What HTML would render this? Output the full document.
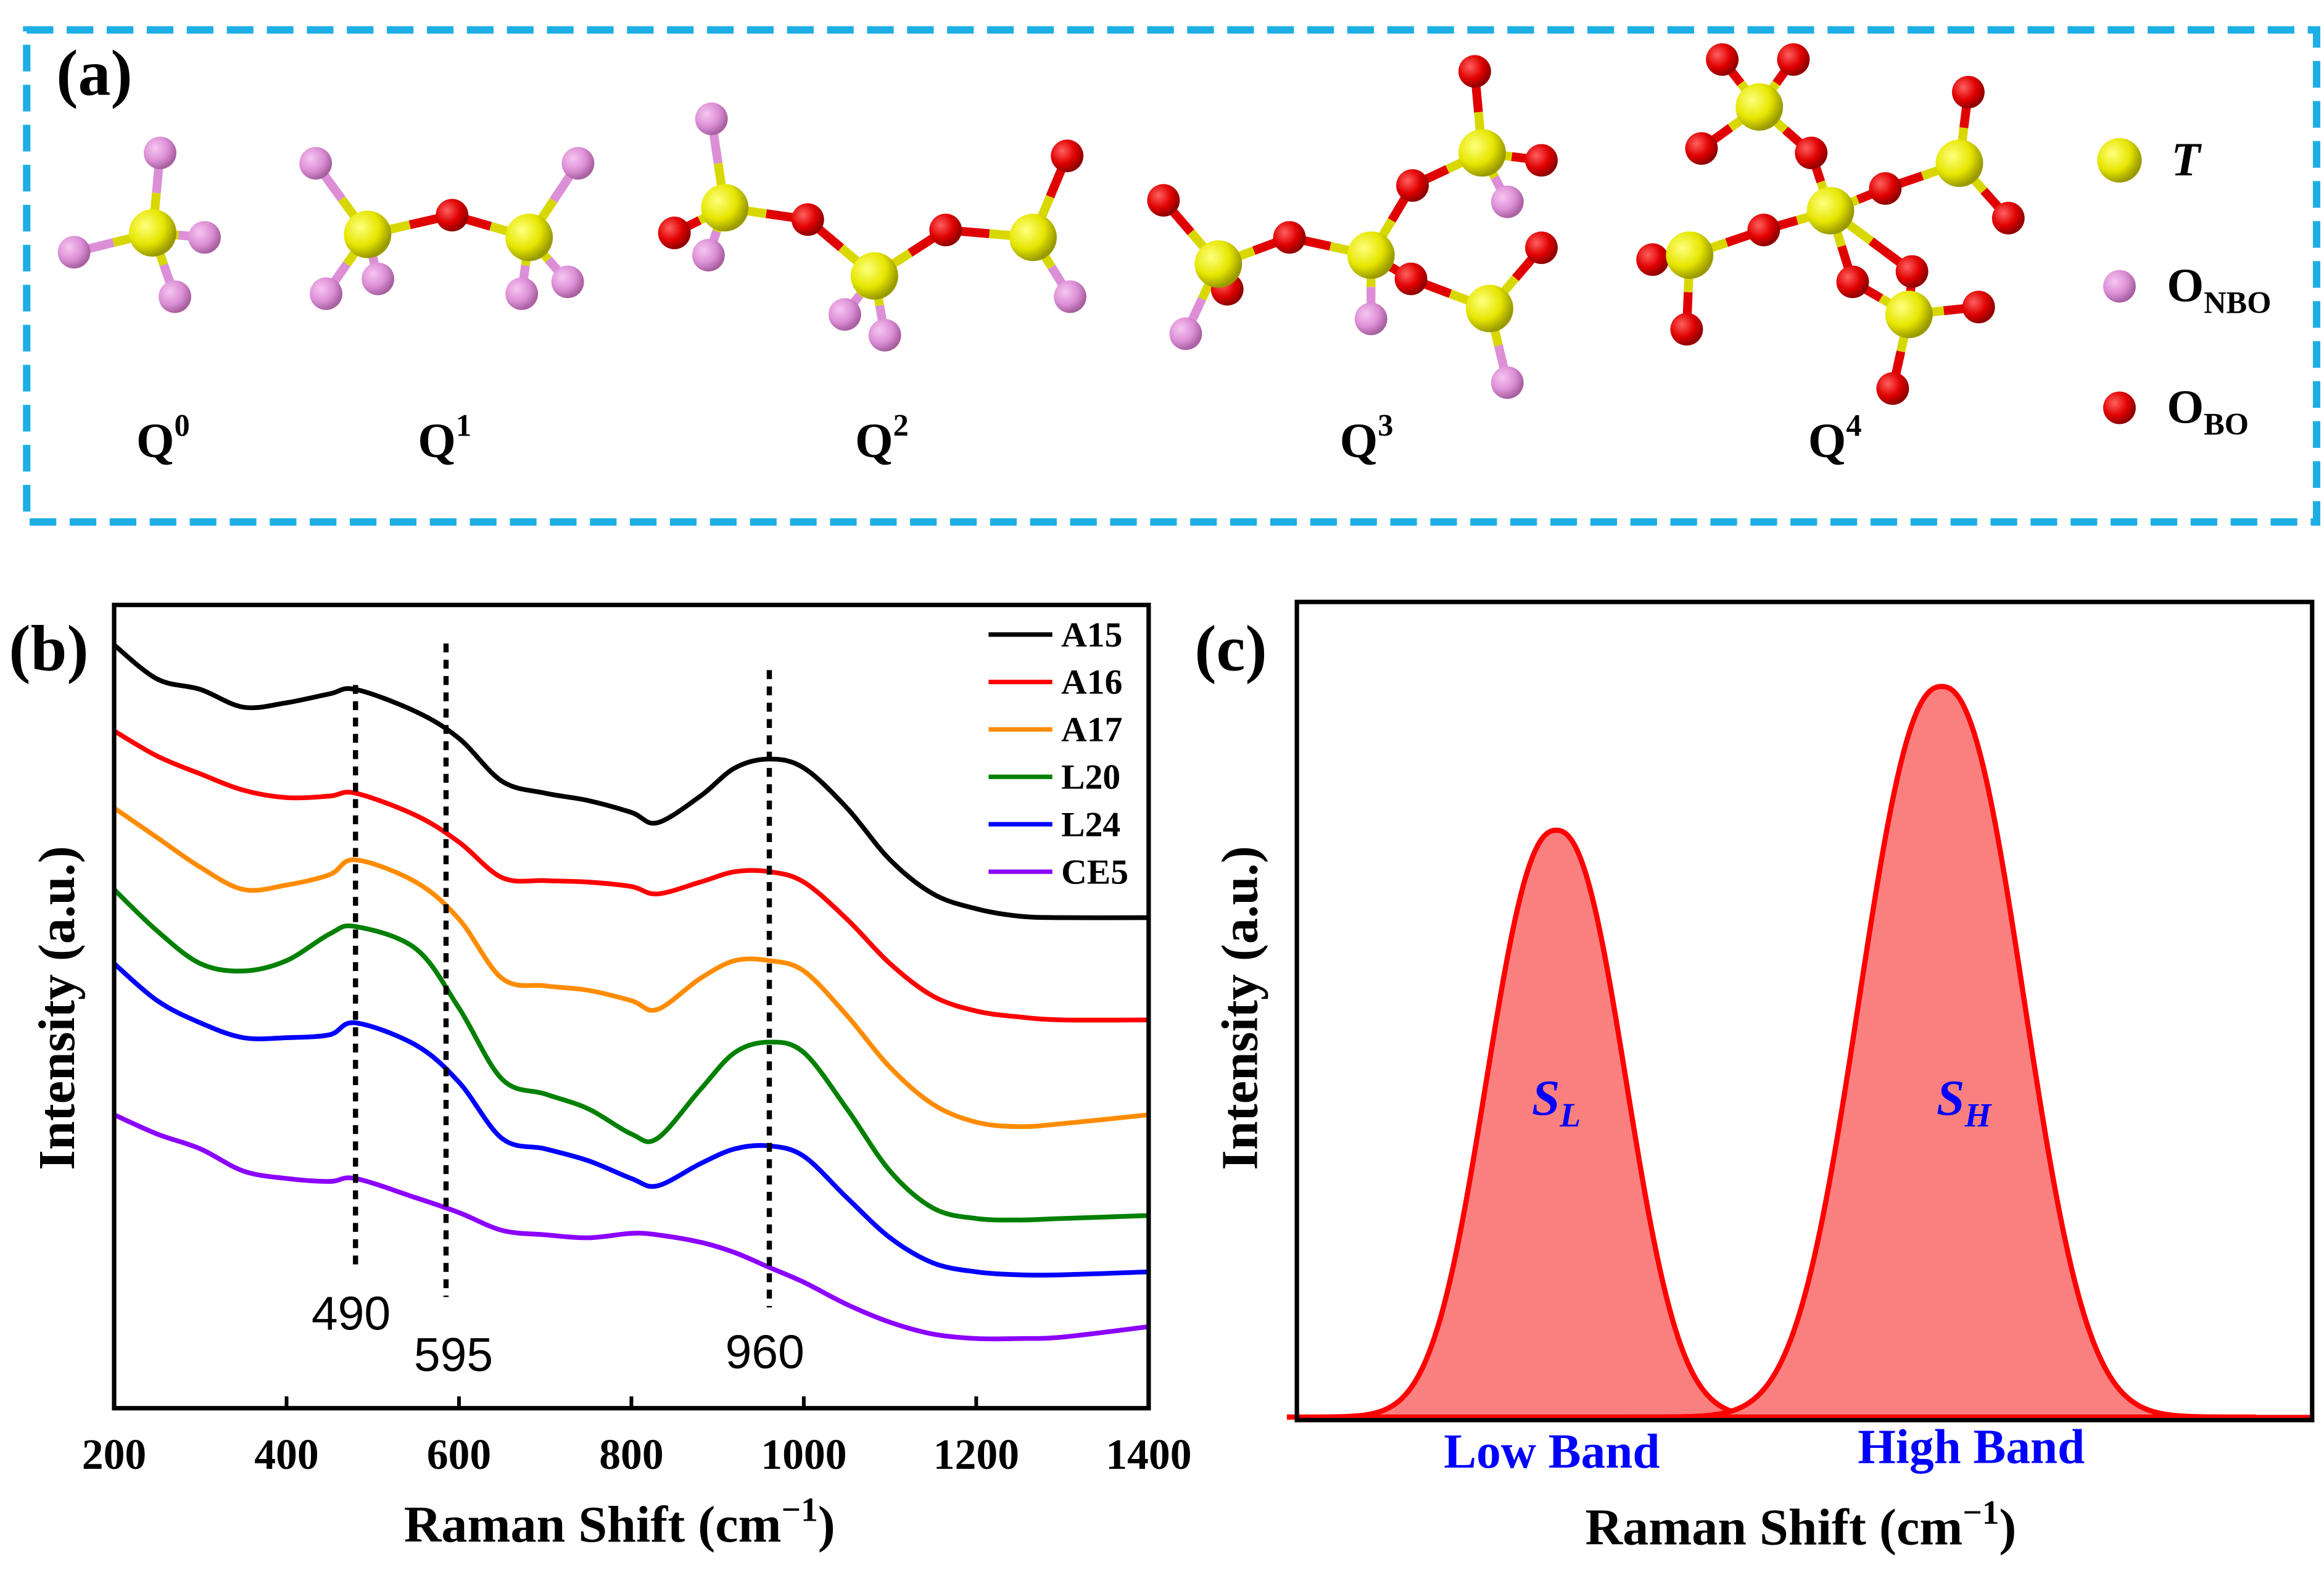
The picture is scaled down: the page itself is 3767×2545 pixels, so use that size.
<!DOCTYPE html>
<html><head><meta charset="utf-8"><style>
html,body{margin:0;padding:0;background:#fff;}
svg{display:block;}
text{font-family:"Liberation Serif",serif;font-weight:bold;}
</style></head><body>
<svg id="fig" width="3767" height="2545" viewBox="0 0 1568 1059" xmlns="http://www.w3.org/2000/svg">
<defs>
<radialGradient id="gy" cx="35%" cy="35%" r="65%"><stop offset="0" stop-color="#ffff80"/><stop offset="0.6" stop-color="#e6e600"/><stop offset="1" stop-color="#9a9a00"/></radialGradient>
<radialGradient id="gp" cx="35%" cy="35%" r="65%"><stop offset="0" stop-color="#f6c6f0"/><stop offset="0.6" stop-color="#dc8fd6"/><stop offset="1" stop-color="#a8609f"/></radialGradient>
<radialGradient id="gr" cx="35%" cy="35%" r="65%"><stop offset="0" stop-color="#ff6060"/><stop offset="0.6" stop-color="#e00000"/><stop offset="1" stop-color="#900000"/></radialGradient>
</defs>
<rect x="18" y="20" width="1545" height="332" fill="none" stroke="#1eaee6" stroke-width="5" stroke-dasharray="18,9"/>
<text x="38" y="64" font-size="44">(a)</text>
<g id="mol"></g>
<g font-size="33" text-anchor="middle">
<text x="110" y="308">Q<tspan font-size="21" dy="-14">0</tspan></text>
<text x="300" y="308">Q<tspan font-size="21" dy="-14">1</tspan></text>
<text x="595" y="308">Q<tspan font-size="21" dy="-14">2</tspan></text>
<text x="922" y="308">Q<tspan font-size="21" dy="-14">3</tspan></text>
<text x="1238" y="308">Q<tspan font-size="21" dy="-14">4</tspan></text>
</g>
<g>
<circle cx="1430" cy="108" r="15" fill="url(#gy)"/><text x="1465" y="118" font-size="32" font-style="italic">T</text>
<circle cx="1430" cy="193" r="11" fill="url(#gp)"/><text x="1462" y="203" font-size="32">O<tspan font-size="21" dy="8">NBO</tspan></text>
<circle cx="1430" cy="275" r="11" fill="url(#gr)"/><text x="1462" y="285" font-size="32">O<tspan font-size="21" dy="8">BO</tspan></text>
</g>

<text x="6" y="452" font-size="44">(b)</text>
<g id="chartb"></g>
<text x="806" y="452" font-size="44">(c)</text>
<g id="chartc"></g>
</svg>
<script>
const NS="http://www.w3.org/2000/svg";
function mk(p,tag,at){const e=document.createElementNS(NS,tag);for(const k in at)e.setAttribute(k,at[k]);p.appendChild(e);return e;}

// ---- panel (a) molecules ----
const yellowAtoms=[[103,157],[248,158],[357,160],[489,140],[590,186],[697,160],[822,178],[925,172],[1000,103],[1005,208],[1187,72],[1235,142],[1140,172],[1322,110],[1288,212]];
const pinkAtoms=[[108,103],[50,170],[138,160],[118,200],[213,110],[220,198],[255,188],[390,110],[352,198],[383,190],[480,80],[478,172],[570,212],[597,226],[722,200],[800,225],[925,215],[1017,136],[1017,258]];
const redAtoms=[[305,145],[545,148],[638,155],[720,105],[455,157],[785,135],[870,160],[953,125],[995,48],[1040,108],[952,188],[1040,167],[828,195],[1162,40],[1210,40],[1148,100],[1222,103],[1190,155],[1272,127],[1328,62],[1355,147],[1115,175],[1138,222],[1250,190],[1290,183],[1335,207],[1277,262]];
const mol=document.getElementById('mol');
const bondG=mk(mol,'g',{});


const others=pinkAtoms.concat(redAtoms);
yellowAtoms.forEach(y=>{others.forEach(o=>{const d=Math.hypot(o[0]-y[0],o[1]-y[1]);if(d<70){const mx=(o[0]+y[0])/2,my=(o[1]+y[1])/2;
mk(bondG,'line',{x1:y[0],y1:y[1],x2:mx,y2:my,stroke:'#d8d800','stroke-width':6});
const isRed=redAtoms.includes(o);
mk(bondG,'line',{x1:mx,y1:my,x2:o[0],y2:o[1],stroke:isRed?'#e00000':'#dc8fd6','stroke-width':6});}});});
pinkAtoms.forEach(p=>{const c=mk(mol,'circle',{cx:p[0],cy:p[1],r:11,fill:'url(#gp)'});});
redAtoms.forEach(p=>{const c=mk(mol,'circle',{cx:p[0],cy:p[1],r:11,fill:'url(#gr)'});});
yellowAtoms.forEach(p=>{const c=mk(mol,'circle',{cx:p[0],cy:p[1],r:16,fill:'url(#gy)'});});

// ---- panel (b) data ----
const xs=[200,250,300,350,400,450,480,550,600,650,700,750,800,830,880,920,960,1000,1050,1100,1150,1200,1250,1300,1400];
const seriesNames=["A15","A16","A17","L20","L24","CE5"];
const seriesColors=["#000000","#ff0000","#ff8c00","#008000","#0000ff","#8b00ff"];
const A15=[515,492,485,473,476,482,485,470,452,423,415,410,402,395,413,432,438,432,405,370,347,337,332,331,331];
const A16=[457,440,428,417,412,413,415,400,382,358,356,355,352,347,355,362,362,355,330,300,278,268,264,262,262];
const A17=[405,385,365,350,353,360,370,355,330,290,285,282,275,269,290,302,302,295,265,230,205,193,190,192,198];
const L20=[350,322,300,295,302,320,325,310,270,222,212,202,185,182,215,240,247,240,202,160,135,128,127,128,130];
const L24=[300,275,260,250,250,252,260,245,220,182,175,167,155,150,165,175,177,170,142,115,98,92,90,90,92];
const CE5=[198,185,175,160,155,153,155,142,132,120,117,115,118,117,112,105,95,85,70,58,50,47,47,48,55];
const allSeries=[A15,A16,A17,L20,L24,CE5];
const xTicks=[200,400,600,800,1000,1200,1400];
const refLines=[480,585,960];
const refLabels=["490","595","960"];

const B={l:77,r:775,t:408,b:950};
const xb=v=>B.l+(v-200)/1200*(B.r-B.l);
const yb=v=>B.b-v;
const cb=document.getElementById('chartb');
function smooth(pts){let d=`M${pts[0][0]},${pts[0][1]}`;for(let i=0;i<pts.length-1;i++){const p0=pts[Math.max(0,i-1)],p1=pts[i],p2=pts[i+1],p3=pts[Math.min(pts.length-1,i+2)];
d+=` C${p1[0]+(p2[0]-p0[0])/6},${p1[1]+(p2[1]-p0[1])/6} ${p2[0]-(p3[0]-p1[0])/6},${p2[1]-(p3[1]-p1[1])/6} ${p2[0]},${p2[1]}`;}return d;}
allSeries.forEach((s,i)=>{const p=mk(cb,'path',{d:smooth(xs.map((x,j)=>[xb(x),yb(s[j])])),fill:'none',stroke:seriesColors[i],'stroke-width':3.2,'stroke-linejoin':'round'});

});
const refTop=[462,434,452],refBot=[855,875,882],refLy=[897,925,923];
refLines.forEach((v,i)=>{const l=mk(cb,'line',{x1:xb(v),x2:xb(v),y1:refTop[i],y2:refBot[i],stroke:'#000','stroke-width':3.5,'stroke-dasharray':'6,5'});


const t=mk(cb,'text',{x:xb(v)+(i==1?5:-3),y:refLy[i],'font-size':32,'text-anchor':'middle',style:'font-family:"Liberation Sans",sans-serif;font-weight:normal'});t.textContent=refLabels[i];

});
const fb=mk(cb,'rect',{x:B.l,y:B.t,width:B.r-B.l,height:B.b-B.t,fill:'none',stroke:'#000','stroke-width':3});


xTicks.forEach(v=>{mk(cb,'line',{x1:xb(v),x2:xb(v),y1:B.b,y2:B.b-8,stroke:'#000','stroke-width':2.5});
const t=mk(cb,'text',{x:xb(v),y:991,'font-size':29,'text-anchor':'middle'});t.textContent=v;

});
seriesNames.forEach((n,i)=>{const y=428+i*32;const g=mk(cb,'g',{});


mk(g,'line',{x1:667,x2:710,y1:y,y2:y,stroke:seriesColors[i],'stroke-width':3});
const t=mk(g,'text',{x:716,y:y+8,'font-size':24});t.textContent=n;});
let t=mk(cb,'text',{x:418,y:1040,'font-size':35,'text-anchor':'middle'});t.innerHTML='Raman Shift (cm<tspan font-size="23" dy="-14">−1</tspan><tspan dy="14">)</tspan>';


t=mk(cb,'text',{x:0,y:0,'font-size':35,'text-anchor':'middle',transform:'translate(50,680) rotate(-90)'});t.textContent='Intensity (a.u.)';



// ---- panel (c) ----
const peakNames=["S_L","S_H"];
const peakCenters=[1050,1310];
const peakHeights=[396,493];
const peakWidths=[45,53];
const C={l:875,r:1560,t:406,b:958};
const cc=document.getElementById('chartc');
const base=956;
peakCenters.forEach((c,i)=>{let d=`M${c-4*peakWidths[i]},${base}`;for(let x=c-4*peakWidths[i];x<=c+4*peakWidths[i];x+=2){const z=(x-c)/peakWidths[i];d+=` L${x},${base-peakHeights[i]*Math.exp(-Math.pow(Math.abs(z),2.3)/2)}`;}
const p=mk(cc,'path',{d:d+' Z',fill:'#fa8080',stroke:'#ff0000','stroke-width':3.5});

});
mk(cc,'line',{x1:C.l,x2:C.r,y1:base,y2:base,stroke:'#ff0000','stroke-width':3});
const fc=mk(cc,'rect',{x:C.l,y:C.t,width:C.r-C.l,height:C.b-C.t,fill:'none',stroke:'#000','stroke-width':3});


t=mk(cc,'text',{x:1050,y:752,'font-size':34,'text-anchor':'middle',fill:'#0000ff','font-style':'italic'});t.innerHTML='S<tspan font-size="23" dy="8">L</tspan>';

t=mk(cc,'text',{x:1325,y:752,'font-size':34,'text-anchor':'middle',fill:'#0000ff','font-style':'italic'});t.innerHTML='S<tspan font-size="23" dy="8">H</tspan>';

t=mk(cc,'text',{x:1047,y:990,'font-size':33,'text-anchor':'middle',fill:'#0000ff'});t.textContent='Low Band';

t=mk(cc,'text',{x:1330,y:987,'font-size':33,'text-anchor':'middle',fill:'#0000ff'});t.textContent='High Band';

t=mk(cc,'text',{x:1215,y:1042,'font-size':35,'text-anchor':'middle'});t.innerHTML='Raman Shift (cm<tspan font-size="23" dy="-14">−1</tspan><tspan dy="14">)</tspan>';

t=mk(cc,'text',{x:0,y:0,'font-size':35,'text-anchor':'middle',transform:'translate(848,680) rotate(-90)'});t.textContent='Intensity (a.u.)';

</script>
</body></html>
